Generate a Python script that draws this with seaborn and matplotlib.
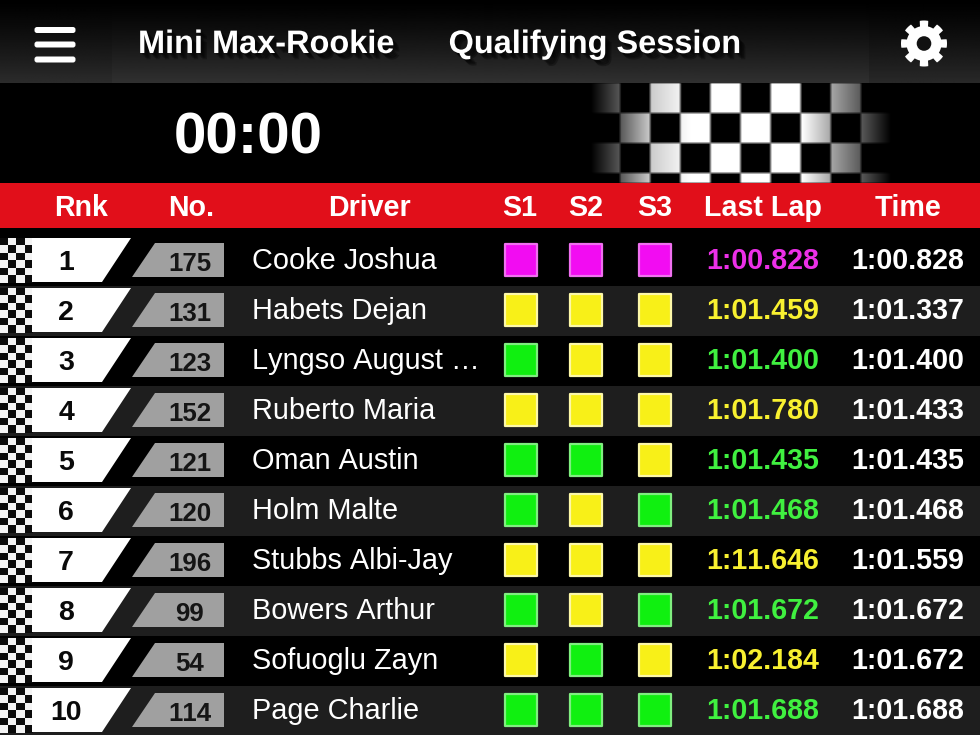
"""Timing screen of a karting qualifying session, drawn on one full-figure axes."""

import matplotlib.patheffects as pe
import matplotlib.pyplot as plt
import numpy as np
import pandas as pd
import seaborn as sns
from matplotlib.patches import Circle, FancyBboxPatch, Polygon, Rectangle

ranks = [1, 2, 3, 4, 5, 6, 7, 8, 9, 10]
numbers = ["175", "131", "123", "152", "121", "120", "196", "99", "54", "114"]
drivers = ["Cooke Joshua", "Habets Dejan", "Lyngso August \u2026", "Ruberto Maria", "Oman Austin",
           "Holm Malte", "Stubbs Albi-Jay", "Bowers Arthur", "Sofuoglu Zayn", "Page Charlie"]
s1 = ["P", "Y", "G", "Y", "G", "G", "Y", "G", "Y", "G"]
s2 = ["P", "Y", "Y", "Y", "G", "Y", "Y", "Y", "G", "G"]
s3 = ["P", "Y", "Y", "Y", "Y", "G", "Y", "G", "Y", "G"]
last_lap = ["1:00.828", "1:01.459", "1:01.400", "1:01.780", "1:01.435",
            "1:01.468", "1:11.646", "1:01.672", "1:02.184", "1:01.688"]
last_lap_status = ["P", "Y", "G", "Y", "G", "G", "Y", "G", "Y", "G"]
best_time = ["1:00.828", "1:01.337", "1:01.400", "1:01.433", "1:01.435",
             "1:01.468", "1:01.559", "1:01.672", "1:01.672", "1:01.688"]
headers = ["Rnk", "No.", "Driver", "S1", "S2", "S3", "Last Lap", "Time"]
header_x = [81, 191, 369, 520, 586, 655, 763, 908]

FILL = {"P": "#f20cf2", "Y": "#f8f018", "G": "#10f010"}
EDGE = {"P": "#f070f0", "Y": "#fdf8a8", "G": "#80ee80"}
TEXT = {"P": "#ec30e8", "Y": "#f8f030", "G": "#40f040"}


def row_y(rank):
    return 260 + 50 * (rank - 1)


def soften(image, size=3):
    # small box blur, the flag edges are not sharp in the screenshot
    kernel = np.ones(size) / size
    image = np.apply_along_axis(lambda v: np.convolve(v, kernel, mode="same"), 0, image)
    return np.apply_along_axis(lambda v: np.convolve(v, kernel, mode="same"), 1, image)


sns.set_theme(style="white")
plt.rcParams["font.family"] = ["Liberation Sans", "DejaVu Sans"]
plt.rcParams["text.kerning_factor"] = 6

fig = plt.figure(figsize=(9.8, 7.35), dpi=100, facecolor="black")
ax = fig.add_axes([0, 0, 1, 1])
ax.set_facecolor("black")

# top bar, slightly darker at both ends
top = np.linspace(0, 1, 83)[:, None] ** 1.2
ax.imshow(top * 0.17, cmap="gray", vmin=0, vmax=1, extent=(0, 112, 83, 0), aspect="auto")
ax.imshow(top * 0.16, cmap="gray", vmin=0, vmax=1, extent=(868, 980, 83, 0), aspect="auto")
ax.imshow(top * 0.19, cmap="gray", vmin=0, vmax=1, extent=(112, 868, 83, 0), aspect="auto")

# faded chequered flag behind the clock
xs = np.arange(590, 890)
ys = np.arange(83, 183)
board = (((xs[None, :] - 590) // 30 + (ys[:, None] - 83) // 30) % 2 == 0).astype(float)
fade = np.interp(xs, [590, 620, 650, 690, 800, 830, 860, 890], [0, 0.35, 0.8, 1, 1, 0.65, 0.35, 0])
ax.imshow(soften(board) * fade[None, :], cmap="gray", vmin=0, vmax=1, interpolation="bilinear",
          extent=(590, 890, 183, 83), aspect="auto")

ax.add_patch(Rectangle((0, 183), 980, 45, color="#e10f1a", lw=0))

# alternate row bands
for rank in ranks:
    if rank % 2 == 0:
        ax.add_patch(Rectangle((0, row_y(rank) - 24), 980, 50, color="#1e1e1e", lw=0, zorder=0.5))

# rank flags and plates
flag = np.array([[(i + j) % 2 for i in range(4)] for j in range(6)], dtype=float)
for rank in ranks:
    y = row_y(rank)
    ax.imshow(flag, cmap="gray", vmin=-0.05, vmax=1.05, interpolation="nearest",
              extent=(0, 32, y + 23, y - 22), aspect="auto", zorder=1)
    ax.add_patch(Polygon([(32, y - 22), (131, y - 22), (102, y + 22), (32, y + 22)], color="white", lw=0))
    ax.add_patch(Polygon([(155, y - 17), (224, y - 17), (224, y + 17), (132, y + 17)], color="#a0a0a0", lw=0))
    ax.text(66, y + 10, str(rank), color="#0a0a0a", fontsize=20.5, fontweight="bold", ha="center", va="baseline")
    ax.text(189.5, y + 11, numbers[rank - 1], color="#151515", fontsize=18.6, fontweight="bold",
            ha="center", va="baseline")
    ax.text(252, y + 9, drivers[rank - 1], color="white", fontsize=20.8, ha="left", va="baseline")
    ax.text(763, y + 9, last_lap[rank - 1], color=TEXT[last_lap_status[rank - 1]], fontsize=20.6,
            fontweight="bold", ha="center", va="baseline")
    ax.text(908, y + 9, best_time[rank - 1], color="white", fontsize=20.6, fontweight="bold",
            ha="center", va="baseline")

# sector squares
sectors = pd.DataFrame({"rank": ranks, "S1": s1, "S2": s2, "S3": s3}).melt(
    id_vars="rank", var_name="sector", value_name="status")
sectors["x"] = sectors["sector"].map({"S1": 521, "S2": 586, "S3": 654.5})
sectors["y"] = sectors["rank"].map(row_y)
for status, group in sectors.groupby("status"):
    sns.scatterplot(data=group, x="x", y="y", marker="s", s=560, color=FILL[status],
                    edgecolor=EDGE[status], linewidth=1.6, legend=False, ax=ax, zorder=3)

# header texts
for label, x in zip(headers, header_x):
    ax.text(x, 216, label, color="white", fontsize=20.6, fontweight="bold", ha="center", va="baseline")

# soft drop shadow for the two titles
shadow = [pe.SimplePatchShadow(offset=(d, -d), shadow_rgbFace="black", alpha=0.3) for d in (1.5, 2.5, 3.5, 4.5)]
shadow.append(pe.Normal())
ax.text(266, 53, "Mini Max-Rookie", color="white", fontsize=23.4, fontweight="bold", ha="center",
        va="baseline", path_effects=shadow)
ax.text(595, 53, "Qualifying Session", color="white", fontsize=23.4, fontweight="bold", ha="center",
        va="baseline", path_effects=shadow)
ax.text(248, 153, "00:00", color="white", fontsize=42, fontweight="bold", ha="center", va="baseline")

# menu icon
for y in [30, 44.5, 59.5]:
    ax.add_patch(FancyBboxPatch((37, y - 0.5), 36, 1, boxstyle="round,pad=2.5", color="white", lw=0))

# settings gear
angles = np.linspace(0, 2 * np.pi, 721)
radius = 17.5 + 5.5 * np.clip((np.cos(8 * angles) + 0.25) * 3, 0, 1)
ax.add_patch(Polygon(np.column_stack([924 + radius * np.cos(angles), 43.5 + radius * np.sin(angles)]),
                     color="white", lw=0))
ax.add_patch(Circle((924, 43.5), 7.3, color="#111111", lw=0))

ax.set_xlim(0, 980)
ax.set_ylim(735, 0)
ax.axis("off")

fig.savefig("out.png", dpi=100, facecolor="black")
